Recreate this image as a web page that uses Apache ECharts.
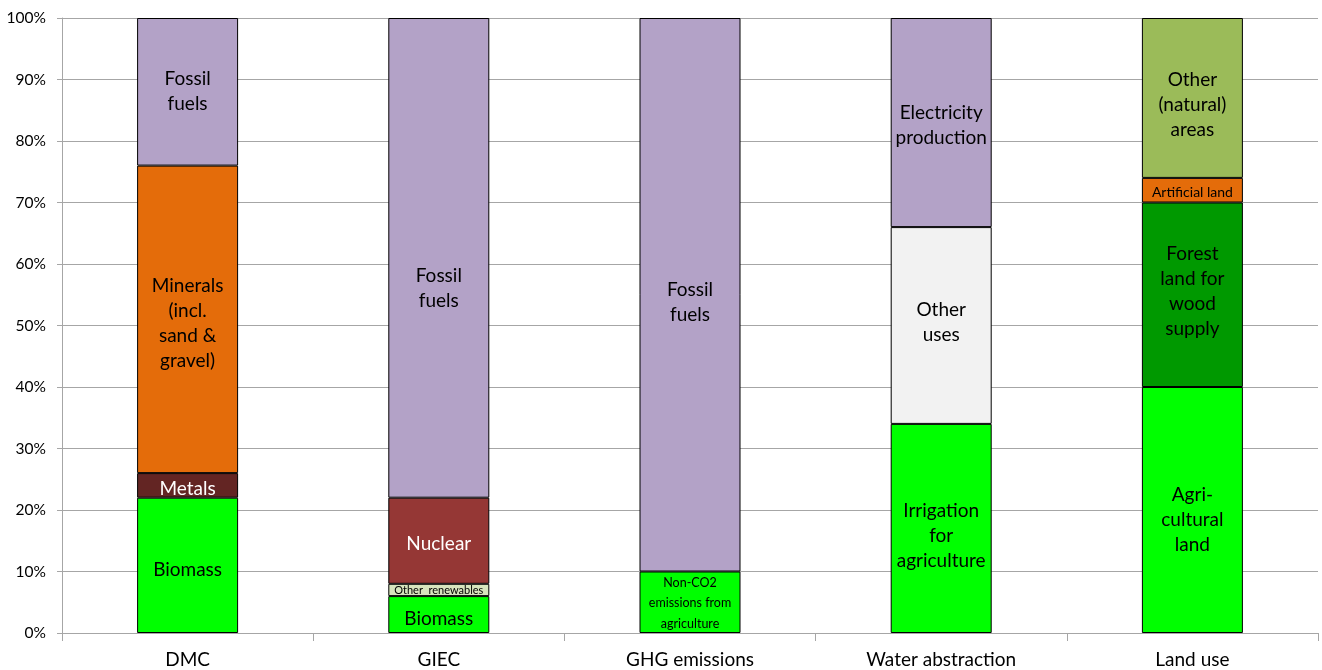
<!DOCTYPE html>
<html>
<head>
<meta charset="utf-8">
<script src="https://cdn.jsdelivr.net/npm/echarts@6/dist/echarts.min.js"></script>
<style>
  html, body { margin: 0; padding: 0; background: #fff; }
  #chart { width: 1322px; height: 670px; }
</style>
</head>
<body>
<div id="chart"></div>
<script>
// Shares of each indicator, stacked bottom to top (percent)
const categories = ['DMC', 'GIEC', 'GHG emissions', 'Water abstraction', 'Land use'];
const yTicks = [0, 10, 20, 30, 40, 50, 60, 70, 80, 90, 100];

const dmcNames   = ['Biomass', 'Metals', 'Minerals\n(incl.\nsand &\ngravel)', 'Fossil\nfuels'];
const dmcValues  = [22, 4, 50, 24];

const giecNames  = ['Biomass', 'Other  renewables', 'Nuclear', 'Fossil\nfuels'];
const giecValues = [6, 2, 14, 78];

const ghgNames   = ['Non-CO2\nemissions from\nagriculture', 'Fossil\nfuels'];
const ghgValues  = [10, 90];

const waterNames  = ['Irrigation\nfor\nagriculture', 'Other\nuses', 'Electricity\nproduction'];
const waterValues = [34, 32, 34];

const landNames  = ['Agri-\ncultural\nland', 'Forest\nland for\nwood\nsupply', 'Artificial land', 'Other\n(natural)\nareas'];
const landValues = [40, 30, 4, 26];

// Segment styling per category: fill, text colour, font size, line height, vertical nudge
const C = {
  green: '#00ff00', metals: '#632523', minerals: '#e46c0a', fossil: '#b3a2c7',
  nuclear: '#953735', otherRen: '#d7e4bd', otherUses: '#f2f2f2',
  forest: '#009900', natural: '#9bbb59', artificial: '#e46c0a'
};
const styles = [
  [ {c: C.green, dy: 5}, {c: C.metals, t: '#fff', dy: 3}, {c: C.minerals, dy: 4}, {c: C.fossil, dy: 0} ],
  [ {c: C.green, dy: 4}, {c: C.otherRen, fs: 11, lh: 12, dy: 1}, {c: C.nuclear, t: '#fff', dy: 3}, {c: C.fossil, dy: 31} ],
  [ {c: C.green, fs: 12.5, lh: 20.5, dy: 1}, {c: C.fossil, dy: 8} ],
  [ {c: C.green, dy: 7}, {c: C.otherUses, dy: -3}, {c: C.fossil, dy: 3} ],
  [ {c: C.green, dy: 10}, {c: C.forest, dy: -3}, {c: C.artificial, fs: 14, lh: 16, dy: 2}, {c: C.natural, dy: 7} ]
];

const groups = [
  [dmcNames, dmcValues],
  [giecNames, giecValues],
  [ghgNames, ghgValues],
  [waterNames, waterValues],
  [landNames, landValues]
];

const layers = Math.max(...groups.map(g => g[1].length));
const series = [];
for (let k = 0; k < layers; k++) {
  const data = groups.map((g, i) => {
    if (k >= g[1].length) return '-';
    const s = styles[i][k];
    return {
      value: g[1][k],
      name: g[0][k],
      itemStyle: { color: s.c },
      label: {
        formatter: g[0][k],
        color: s.t || '#000',
        fontSize: s.fs || 19,
        lineHeight: s.lh || 25,
        offset: [0, s.dy || 0]
      }
    };
  });
  series.push({
    type: 'bar',
    stack: 'total',
    barWidth: 101,
    data: data,
    itemStyle: { borderColor: '#000', borderWidth: 1 },
    label: {
      show: true,
      position: 'inside',
      fontFamily: 'Lato, "Open Sans", sans-serif'
    },
    emphasis: { disabled: true }
  });
}

const chart = echarts.init(document.getElementById('chart'), null, { renderer: 'canvas' });
chart.setOption({
  animation: false,
  backgroundColor: '#fff',
  textStyle: { fontFamily: 'Lato, "Open Sans", sans-serif' },
  grid: { left: 62, right: 4, top: 18, bottom: 37, containLabel: false },
  xAxis: {
    type: 'category',
    data: categories,
    axisLine: { lineStyle: { color: '#a6a6a6', width: 1 } },
    axisTick: { show: true, length: 8, lineStyle: { color: '#a6a6a6' } },
    axisLabel: { color: '#000', fontSize: 19, margin: 17 }
  },
  yAxis: {
    type: 'value',
    min: yTicks[0],
    max: yTicks[yTicks.length - 1],
    interval: 10,
    axisLine: { show: true, lineStyle: { color: '#a6a6a6', width: 1 } },
    axisTick: { show: true, length: 5, lineStyle: { color: '#a6a6a6' } },
    splitLine: { show: true, lineStyle: { color: '#a6a6a6', width: 1 } },
    axisLabel: { color: '#000', fontSize: 15.5, margin: 16, formatter: '{value}%' }
  },
  series: series
});
</script>
</body>
</html>
